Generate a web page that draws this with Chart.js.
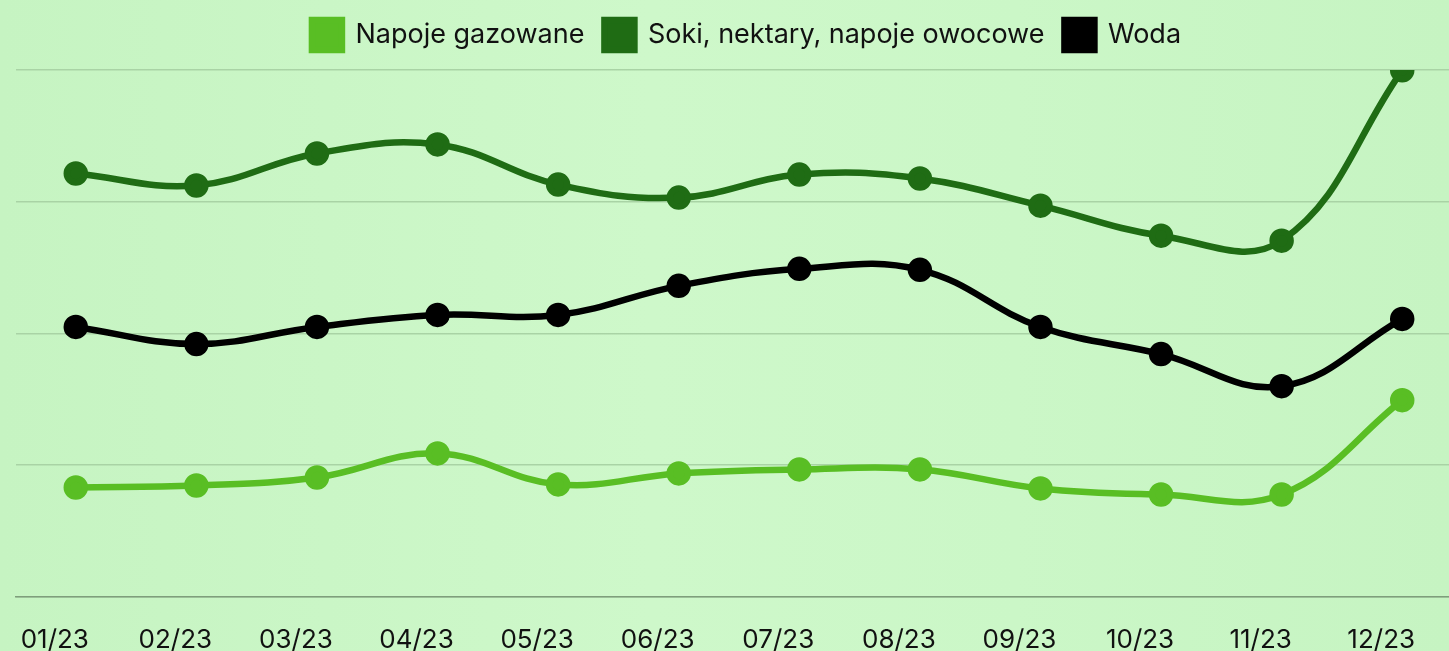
<!DOCTYPE html>
<html>
<head>
<meta charset="utf-8">
<script src="https://cdn.jsdelivr.net/npm/chart.js@4"></script>
<style>
  html, body { margin: 0; padding: 0; overflow: hidden; }
  body { width: 1449px; height: 651px; background: linear-gradient(to right, #c6f4c2 0%, #cef8ca 45%, #cbf7c7 70%, #c6f4c2 100%); }
  canvas { display: block; }
</style>
</head>
<body>
<canvas id="chart" width="1478" height="676"></canvas>
<script>
const labels = ['01/23', '02/23', '03/23', '04/23', '05/23', '06/23', '07/23', '08/23', '09/23', '10/23', '11/23', '12/23'];
const gazowane = [83, 84.5, 90.6, 108.9, 85.3, 93.7, 96.7, 96.7, 82.3, 77.7, 77.7, 149.3];
const soki = [321.4, 312.3, 336.6, 343.5, 313, 303.1, 320.6, 317.6, 297, 274.2, 270.4, 399.8];
const woda = [204.9, 191.9, 204.9, 214, 214, 236.1, 249, 248.3, 204.9, 184.3, 159.9, 211];
const yTicks = [0, 100, 200, 300, 400];

const font = "'Inter', 'Noto Sans', sans-serif";

function series(label, data, color) {
    return {
        label: label,
        data: data,
        borderColor: color,
        backgroundColor: color,
        pointBackgroundColor: color,
        pointBorderColor: color,
        borderWidth: 6.5,
        pointRadius: 9,
        tension: 0.4,
        fill: false,
    };
}

// extra room under the legend
const legendGap = {
    id: 'legendGap',
    beforeInit(chart) {
        const fit = chart.legend.fit;
        chart.legend.fit = function () {
            fit.bind(chart.legend)();
            this.height += 10;
        };
    },
};

new Chart(document.getElementById('chart'), {
    type: 'line',
    data: {
        labels: labels,
        datasets: [
            series('Napoje gazowane', gazowane, '#59be24'),
            series('Soki, nektary, napoje owocowe', soki, '#1f6c14'),
            series('Woda', woda, '#000000'),
        ],
    },
    options: {
        responsive: false,
        animation: false,
        layout: { padding: { left: 15, right: 0, top: 0, bottom: 0 } },
        plugins: {
            legend: {
                position: 'top',
                align: 'center',
                labels: {
                    boxWidth: 30,
                    boxHeight: 30,
                    padding: 20,
                    color: '#111',
                    font: { family: font, size: 27 },
                },
            },
            tooltip: { enabled: false },
        },
        scales: {
            x: {
                offset: true,
                grid: { display: false },
                border: { display: true, color: '#7f9e7c', width: 1.5 },
                ticks: {
                    color: '#111',
                    font: { family: font, size: 26 },
                    labelOffset: -21,
                    padding: 20,
                    maxRotation: 0,
                    autoSkip: false,
                },
            },
            y: {
                min: 0,
                max: 400,
                afterBuildTicks: (axis) => { axis.ticks = yTicks.map(v => ({ value: v })); },
                grid: { color: '#a9d3a5', lineWidth: 1.5, drawTicks: false },
                border: { display: false },
                ticks: { display: false },
            },
        },
    },
    plugins: [legendGap],
});
</script>
</body>
</html>
